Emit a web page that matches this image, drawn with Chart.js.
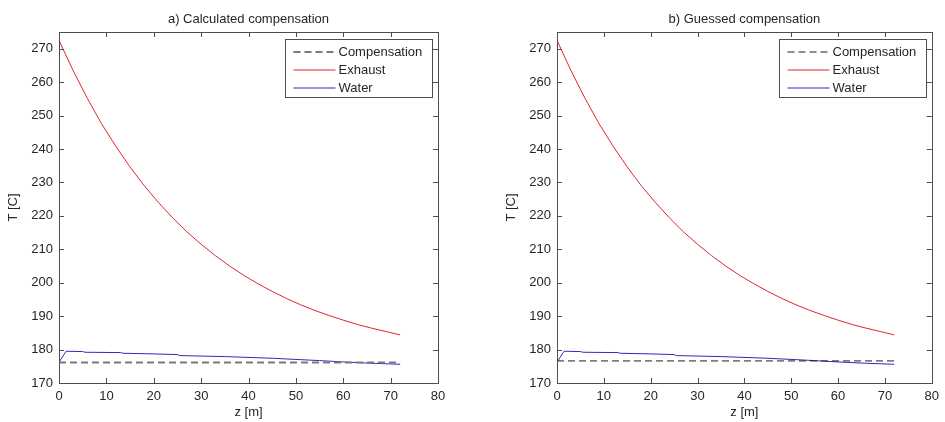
<!DOCTYPE html>
<html>
<head>
<meta charset="utf-8">
<script src="https://cdn.jsdelivr.net/npm/chart.js@4"></script>
<style>
  html, body { margin: 0; padding: 0; background: #fff; }
  #wrap { position: relative; width: 945px; height: 422px; }
  .panel { position: absolute; top: 0; height: 422px; }
  #panelA { left: 0; width: 472px; }
  #panelB { left: 472px; width: 473px; }
</style>
</head>
<body>
<div id="wrap">
  <div class="panel" id="panelA"><canvas id="chartA"></canvas></div>
  <div class="panel" id="panelB"><canvas id="chartB"></canvas></div>
</div>
<script>
// values
const zExhaust = [0, 3, 6, 9, 12, 15, 18, 21, 24, 27, 30, 33, 36, 39, 42, 45, 48, 51, 54, 57, 60, 63, 66, 69, 72];
const exhaust = [272.5, 263.4, 255.1, 247.5, 240.8, 234.6, 229.0, 224.0, 219.4, 215.2, 211.5, 208.1, 205.0,
  202.2, 199.7, 197.4, 195.3, 193.4, 191.7, 190.2, 188.8, 187.5, 186.4, 185.4, 184.4];

const zWater = [0, 1.5, 5, 5.5, 13, 13.5, 20, 25, 25.5, 35, 45, 55, 60, 66, 72];
const water = [176.2, 179.5, 179.4, 179.2, 179.1, 178.9, 178.7, 178.5, 178.2, 177.9, 177.4, 176.7, 176.3, 175.9, 175.6];

const zComp = [0, 72];
const compCalculated = [176.1, 176.1];
const compGuessed = [176.6, 176.6];

const xTicks = [0, 10, 20, 30, 40, 50, 60, 70, 80];
const yTicks = [170, 180, 190, 200, 210, 220, 230, 240, 250, 260, 270];
const legendLabels = ["Compensation", "Exhaust", "Water"];

(function plotApp() {
  "use strict";

  const FONT = "'Liberation Sans', Arial, sans-serif";
  const TEXT = "#262626";
  const AXIS = "#4d4d4d";
  const RED = "#e0242e";
  const BLUE = "#2b2bbf";

  function points(xs, ys) {
    return xs.map((x, i) => ({ x, y: ys[i] }));
  }

  // axes box, inward ticks, title and legend in the MATLAB style
  const matlabFrame = {
    id: "matlabFrame",
    afterDraw(chart, args, opts) {
      const { ctx, chartArea: a } = chart;
      const xs = chart.scales.x;
      const ys = chart.scales.y;
      ctx.save();
      ctx.strokeStyle = AXIS;
      ctx.lineWidth = 1;
      ctx.strokeRect(Math.round(a.left) + 0.5, Math.round(a.top) + 0.5,
        Math.round(a.right - a.left), Math.round(a.bottom - a.top));
      ctx.beginPath();
      xTicks.forEach((v) => {
        const px = Math.round(xs.getPixelForValue(v)) + 0.5;
        ctx.moveTo(px, a.bottom);
        ctx.lineTo(px, a.bottom - 5);
        ctx.moveTo(px, a.top);
        ctx.lineTo(px, a.top + 5);
      });
      yTicks.forEach((v) => {
        const py = Math.round(ys.getPixelForValue(v)) + 0.5;
        ctx.moveTo(a.left, py);
        ctx.lineTo(a.left + 5, py);
        ctx.moveTo(a.right, py);
        ctx.lineTo(a.right - 5, py);
      });
      ctx.stroke();

      // title
      ctx.fillStyle = TEXT;
      ctx.font = "13px " + FONT;
      ctx.textAlign = "center";
      ctx.textBaseline = "middle";
      ctx.fillText(opts.title, (a.left + a.right) / 2, 19);

      // legend box
      const bw = 147;
      const bh = 58;
      const bx = Math.round(a.right - 6 - bw) + 0.5;
      const by = Math.round(a.top + 7) + 0.5;
      ctx.fillStyle = "#fff";
      ctx.fillRect(bx, by, bw, bh);
      ctx.strokeStyle = AXIS;
      ctx.strokeRect(bx, by, bw, bh);
      chart.data.datasets.forEach((ds, i) => {
        const ry = by + 12.5 + i * 18;
        ctx.beginPath();
        ctx.strokeStyle = ds.borderColor;
        ctx.lineWidth = ds.borderWidth;
        ctx.setLineDash(ds.borderDash || []);
        ctx.moveTo(bx + 8, ry);
        ctx.lineTo(bx + 50, ry);
        ctx.stroke();
        ctx.setLineDash([]);
        ctx.fillStyle = TEXT;
        ctx.textAlign = "left";
        ctx.fillText(legendLabels[i], bx + 53, ry);
      });
      ctx.restore();
    },
  };

  function buildChart(canvasId, title, comp, compStyle, yAxisWidth, yTitlePad, padRight) {
    return new Chart(document.getElementById(canvasId), {
      type: "scatter",
      data: {
        datasets: [
          {
            label: legendLabels[0],
            data: points(zComp, comp),
            showLine: true,
            borderColor: compStyle.color,
            borderWidth: compStyle.width,
            borderDash: [7, 4],
            pointRadius: 0,
          },
          {
            label: legendLabels[1],
            data: points(zExhaust, exhaust),
            showLine: true,
            borderColor: RED,
            borderWidth: 1,
            pointRadius: 0,
          },
          {
            label: legendLabels[2],
            data: points(zWater, water),
            showLine: true,
            borderColor: BLUE,
            borderWidth: 1,
            pointRadius: 0,
          },
        ],
      },
      options: {
        responsive: false,
        animation: false,
        events: [],
        layout: { padding: { top: 32, right: padRight, left: 0, bottom: 0 } },
        scales: {
          x: {
            type: "linear",
            min: 0,
            max: 80,
            afterBuildTicks: (s) => { s.ticks = xTicks.map((v) => ({ value: v })); },
            afterFit: (s) => { s.height = 39; },
            grid: { display: false, drawTicks: false },
            border: { display: false },
            ticks: { color: TEXT, font: { family: FONT, size: 13 }, padding: 6, maxRotation: 0 },
            title: { display: true, text: "z [m]", color: TEXT, font: { family: FONT, size: 13 }, padding: { top: 0, bottom: 2 } },
          },
          y: {
            type: "linear",
            min: 170,
            max: 275,
            afterBuildTicks: (s) => { s.ticks = yTicks.map((v) => ({ value: v })); },
            afterFit: (s) => { s.width = yAxisWidth; },
            grid: { display: false, drawTicks: false },
            border: { display: false },
            ticks: { color: TEXT, font: { family: FONT, size: 13 }, padding: 6 },
            title: { display: true, text: "T [C]", color: TEXT, font: { family: FONT, size: 13 }, padding: { top: yTitlePad, bottom: 0 } },
          },
        },
        plugins: {
          legend: { display: false },
          tooltip: { enabled: false },
          matlabFrame: { title },
        },
      },
      plugins: [matlabFrame],
    });
  }

  const canvasA = document.getElementById("chartA");
  canvasA.width = 472;
  canvasA.height = 422;
  const canvasB = document.getElementById("chartB");
  canvasB.width = 473;
  canvasB.height = 422;

  buildChart("chartA", "a) Calculated compensation", compCalculated, { color: "#7a7a7a", width: 2 }, 59, 6, 34);
  buildChart("chartB", "b) Guessed compensation", compGuessed, { color: "#1e1e1e", width: 1 }, 85, 32, 8);
})();
</script>
</body>
</html>
